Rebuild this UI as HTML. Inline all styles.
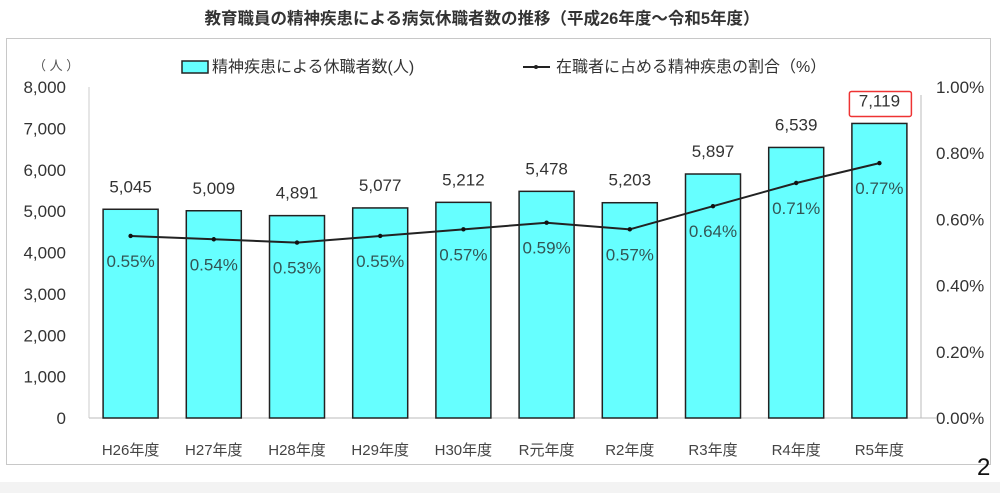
<!DOCTYPE html>
<html><head><meta charset="utf-8"><style>
body{margin:0;background:#fff;width:1000px;height:493px;overflow:hidden;font-family:"Liberation Sans","Noto Sans CJK JP",sans-serif;}
</style></head><body>
<svg id="c" width="1000" height="493" xmlns="http://www.w3.org/2000/svg" font-family="Liberation Sans, Noto Sans CJK JP, sans-serif">
<rect x="0" y="482" width="1000" height="11" fill="#f3f3f3"/>
<rect x="6.5" y="38.5" width="984" height="426" fill="#fff" stroke="#c8c8c8"/>
<text x="482" y="24" text-anchor="middle" font-size="16.5" font-weight="bold" fill="#333">教育職員の精神疾患による病気休職者数の推移（平成26年度～令和5年度）</text>
<text x="33" y="70" font-size="13" fill="#555">（ 人 ）</text>
<rect x="182" y="61" width="26" height="12" fill="#66ffff" stroke="#222" stroke-width="1.5"/>
<text x="212" y="72" font-size="16" fill="#333">精神疾患による休職者数(人)</text>
<line x1="523" y1="67" x2="550" y2="67" stroke="#222" stroke-width="2"/>
<circle cx="536" cy="67" r="2" fill="#222"/>
<text x="556" y="72" font-size="16" fill="#333">在職者に占める精神疾患の割合（%）</text>
<text x="977" y="475" font-size="24" fill="#111">2</text>
<g id="g"></g>
</svg>
<script>
const categories=["H26年度","H27年度","H28年度","H29年度","H30年度","R元年度","R2年度","R3年度","R4年度","R5年度"];
const counts=[5045,5009,4891,5077,5212,5478,5203,5897,6539,7119];
const ratios=[0.55,0.54,0.53,0.55,0.57,0.59,0.57,0.64,0.71,0.77];
const leftTicks=[0,1000,2000,3000,4000,5000,6000,7000,8000];
const rightTicks=[0,0.2,0.4,0.6,0.8,1.0];
const NS="http://www.w3.org/2000/svg";
const g=document.getElementById('g');
const X0=89,X1=921,Y0=418,YT=87;
const band=(X1-X0)/categories.length;
const xc=i=>X0+band*(i+0.5);
const yL=v=>Y0-(v/8000)*(Y0-YT);
const yR=v=>Y0-(v/1.0)*(Y0-YT);
function el(t,a){const e=document.createElementNS(NS,t);for(const k in a)e.setAttribute(k,a[k]);g.appendChild(e);return e;}
let e;
e=el('line',{x1:X0,y1:Y0,x2:X1+15,y2:Y0,stroke:'#bbb'});


e=el('line',{x1:X0,y1:YT,x2:X0,y2:Y0,stroke:'#ccc'});


e=el('line',{x1:X1,y1:YT+8,x2:X1,y2:Y0,stroke:'#bbb'});


leftTicks.forEach(v=>{
  const t=el('text',{x:66,y:yL(v)+6,'text-anchor':'end','font-size':17,fill:'#333'});
  t.textContent=v.toLocaleString('en-US');
  
  
});
rightTicks.forEach(v=>{
  const t=el('text',{x:936,y:yR(v)+6,'font-size':17,fill:'#333'});
  t.textContent=v.toFixed(2)+'%';
  
  
});
categories.forEach((c,i)=>{
  const x=xc(i),w=55,top=yL(counts[i]);
  const r=el('rect',{x:x-w/2,y:top,width:w,height:Y0-top,fill:'#66ffff',stroke:'#222','stroke-width':1.5});
  
  
  const t=el('text',{x:x,y:top-17,'text-anchor':'middle','font-size':17,fill:'#333'});
  t.textContent=counts[i].toLocaleString('en-US');
  
  
  const cl=el('text',{x:x,y:455,'text-anchor':'middle','font-size':15,fill:'#444'});
  cl.textContent=c;
  
  
  if(i===categories.length-1){
    const b=el('rect',{x:x-30,y:top-32,width:62,height:25,fill:'none',stroke:'#ee3333','stroke-width':1.5,rx:2});
    
    
  }
});
const pts=ratios.map((v,i)=>xc(i)+','+yR(v)).join(' ');
e=el('polyline',{points:pts,fill:'none',stroke:'#222','stroke-width':2});


ratios.forEach((v,i)=>{
  const c=el('circle',{cx:xc(i),cy:yR(v),r:2.2,fill:'#111'});
  
  
  const t=el('text',{x:xc(i),y:yR(v)+31,'text-anchor':'middle','font-size':17,fill:'#335555'});
  t.textContent=v.toFixed(2)+'%';
  
  
});
</script>
</body></html>
